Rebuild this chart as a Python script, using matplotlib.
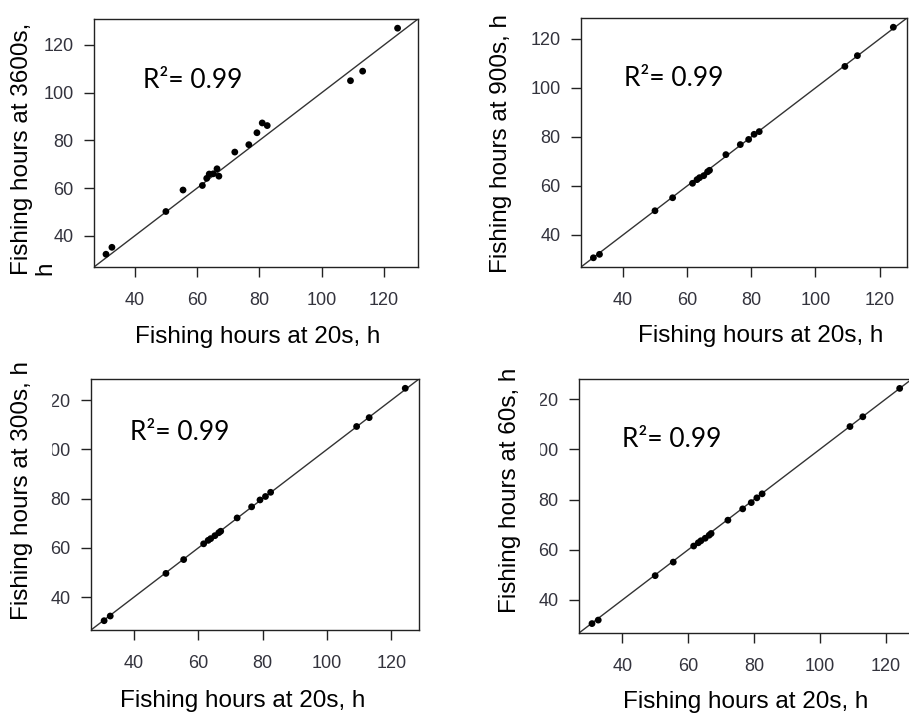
import matplotlib.pyplot as plt
from matplotlib.patches import Rectangle

# fishing hours summed with a 20 s ping interval (x) and coarser intervals (y)
hours_20s = [30.8, 32.7, 50.0, 55.5, 61.7, 63.1, 63.9, 65.2, 66.4, 67.0,
             72.1, 76.6, 79.2, 80.9, 82.5, 109.2, 113.1, 124.3]
hours_3600s = [32.3, 35.2, 50.2, 59.2, 61.1, 64.1, 65.9, 66.0, 68.1, 65.0,
               75.1, 78.2, 83.2, 87.3, 86.2, 105.0, 109.0, 127.0]
hours_900s = [30.7, 32.1, 49.9, 55.2, 61.1, 62.6, 63.4, 64.2, 65.8, 66.4,
              72.8, 76.9, 79.0, 81.1, 82.2, 108.8, 113.2, 124.8]
hours_300s = [30.5, 32.4, 49.7, 55.3, 61.7, 63.1, 63.8, 65.0, 66.2, 66.8,
              72.2, 76.7, 79.5, 80.9, 82.6, 109.3, 112.9, 124.8]
hours_60s = [30.6, 32.0, 49.7, 55.1, 61.5, 62.8, 63.6, 64.6, 65.8, 66.5,
             71.8, 76.3, 78.8, 80.7, 82.3, 109.1, 113.0, 124.3]
r2_text = 'R²= 0.99'
ticks = [40, 60, 80, 100, 120]

W, H = 909, 713
fig = plt.figure(figsize=(W / 100, H / 100), dpi=100)
fig.patch.set_facecolor('white')


def fx(px):
    return px / W


def fy(py):
    return 1 - py / H


def panel(box, x, y):
    l, t, r, b = box
    ax = fig.add_axes([fx(l), fy(b), (r - l) / W, (b - t) / H])
    # R style range: data extent plus 4 % on each side, same for both axes
    lo = min(min(x), min(y))
    hi = max(max(x), max(y))
    pad = 0.04 * (hi - lo)
    ax.set_xlim(lo - pad, hi + pad)
    ax.set_ylim(lo - pad, hi + pad)
    ax.axline((0, 0), slope=1, color='#333333', lw=1.0, zorder=1)
    ax.scatter(x, y, s=24, color='black', edgecolors='none', zorder=2)
    ax.set_xticks(ticks)
    ax.set_yticks(ticks)
    for s in ax.spines.values():
        s.set_color('#222222')
        s.set_linewidth(1.0)
    ax.tick_params(axis='both', direction='out', length=7, width=1.0,
                   color='#222222', labelcolor='#33333d', labelsize=13)
    ax.tick_params(axis='x', pad=11)
    ax.tick_params(axis='y', pad=7.5)
    for lab in ax.get_xticklabels() + ax.get_yticklabels():
        lab.set_family('Liberation Sans')
    return ax


panel((94, 19, 418, 267), hours_20s, hours_3600s)
panel((581, 18, 907, 267), hours_20s, hours_900s)
panel((91, 379, 419, 630), hours_20s, hours_300s)
panel((579, 379, 912, 633), hours_20s, hours_60s)

# the leading "1" of the upper y labels is hidden in the lower row
fig.add_artist(Rectangle((fx(34), fy(462)), (50.5 - 34) / W, 74 / H,
                         transform=fig.transFigure, color='white', zorder=1))
fig.add_artist(Rectangle((fx(522), fy(462)), (538.5 - 522) / W, 74 / H,
                         transform=fig.transFigure, color='white', zorder=1))

lab_kw = dict(family='Liberation Sans', fontsize=17.5, color='black', zorder=3)
xlab = 'Fishing hours at 20s, h'
fig.text(fx(257.7), fy(343), xlab, ha='center', va='baseline', **lab_kw)
fig.text(fx(761), fy(341.7), xlab, ha='center', va='baseline', **lab_kw)
fig.text(fx(243), fy(706.7), xlab, ha='center', va='baseline', **lab_kw)
fig.text(fx(746), fy(708), xlab, ha='center', va='baseline', **lab_kw)

# first panel's y title wraps onto a second line
fig.text(fx(22), fy(275), 'Fishing hours at 3600s,', rotation=90,
         ha='center', va='bottom', **lab_kw)
fig.text(fx(45.5), fy(275), 'h', rotation=90,
         ha='center', va='bottom', **lab_kw)
fig.text(fx(501), fy(273), 'Fishing hours at 900s, h', rotation=90,
         ha='center', va='bottom', **lab_kw)
fig.text(fx(22.5), fy(620), 'Fishing hours at 300s, h', rotation=90,
         ha='center', va='bottom', **lab_kw)
fig.text(fx(510), fy(613), 'Fishing hours at 60s, h', rotation=90,
         ha='center', va='bottom', **lab_kw)

r2_kw = dict(family='Lato', fontsize=19, color='black', ha='left',
             va='baseline', zorder=3)
fig.text(fx(142.7), fy(88.3), r2_text, **r2_kw)
fig.text(fx(624.3), fy(86), r2_text, **r2_kw)
fig.text(fx(130), fy(440), r2_text, **r2_kw)
fig.text(fx(622.3), fy(447.3), r2_text, **r2_kw)

fig.savefig('out.png', dpi=100)
